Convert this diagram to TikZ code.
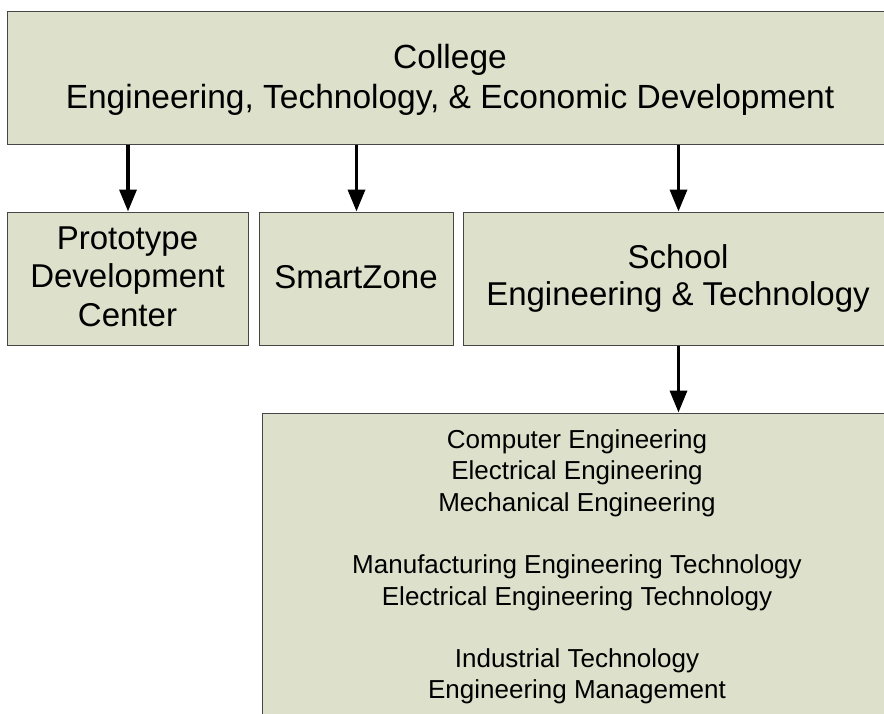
\documentclass[tikz,border=0pt]{standalone}
\usepackage{fontspec}
\setmainfont{Liberation Sans}
\usetikzlibrary{arrows.meta}
\definecolor{boxfill}{RGB}{221,224,203}
\definecolor{boxline}{RGB}{70,70,70}
\begin{document}
\begin{tikzpicture}[x=1pt,y=-1pt,
  box/.style={draw=boxline, fill=boxfill, line width=1pt, anchor=north west, inner sep=0pt},
  big/.style={font=\fontsize{33.5}{40}\selectfont, anchor=base, inner sep=0pt},
  mid/.style={font=\fontsize{33}{38}\selectfont, anchor=base, inner sep=0pt},
  small/.style={font=\fontsize{26}{31}\selectfont, anchor=base, inner sep=0pt},
  arr/.style={line width=3.5pt, -{Triangle[length=22pt,width=17pt]}}]
\useasboundingbox (0,0) rectangle (884,713);
\clip (0,0) rectangle (884,713);
% boxes
\node[box, minimum width=886pt, minimum height=133pt] (college) at (7,11) {};
\node[box, minimum width=241pt, minimum height=133.5pt] (proto) at (7,211.5) {};
\node[box, minimum width=194pt, minimum height=133.5pt] (smart) at (259,211.5) {};
\node[box, minimum width=430pt, minimum height=133.5pt] (school) at (463,211.5) {};
\node[box, minimum width=630pt, minimum height=320pt] (dept) at (262,412.5) {};
% texts
\node[big] (c1) at (450,68) {College};
\node[big] (c2) at (450,108) {Engineering, Technology, \& Economic Development};
\node[mid] (p1) at (127.5,249) {Prototype};
\node[mid] (p2) at (127.5,287.5) {Development};
\node[mid] (p3) at (127.5,326) {Center};
\node[mid] (s1) at (356,288) {SmartZone};
\node[mid] (e1) at (678,268) {School};
\node[mid] (e2) at (678,305) {Engineering \& Technology};
\node[small] (d1) at (577,448) {Computer Engineering};
\node[small] (d2) at (577,479.5) {Electrical Engineering};
\node[small] (d3) at (577,511) {Mechanical Engineering};
\node[small] (d4) at (577,573.5) {Manufacturing Engineering Technology};
\node[small] (d5) at (577,605) {Electrical Engineering Technology};
\node[small] (d6) at (577,667) {Industrial Technology};
\node[small] (d7) at (577,698) {Engineering Management};
% arrows
\draw[arr] (college.south -| proto.north) -- (proto.north);
\draw[arr] (college.south -| smart.north) -- (smart.north);
\draw[arr] (college.south -| school.north) -- (school.north);
\draw[arr] (school.south) -- (dept.north -| school.south);
\end{tikzpicture}
\end{document}
